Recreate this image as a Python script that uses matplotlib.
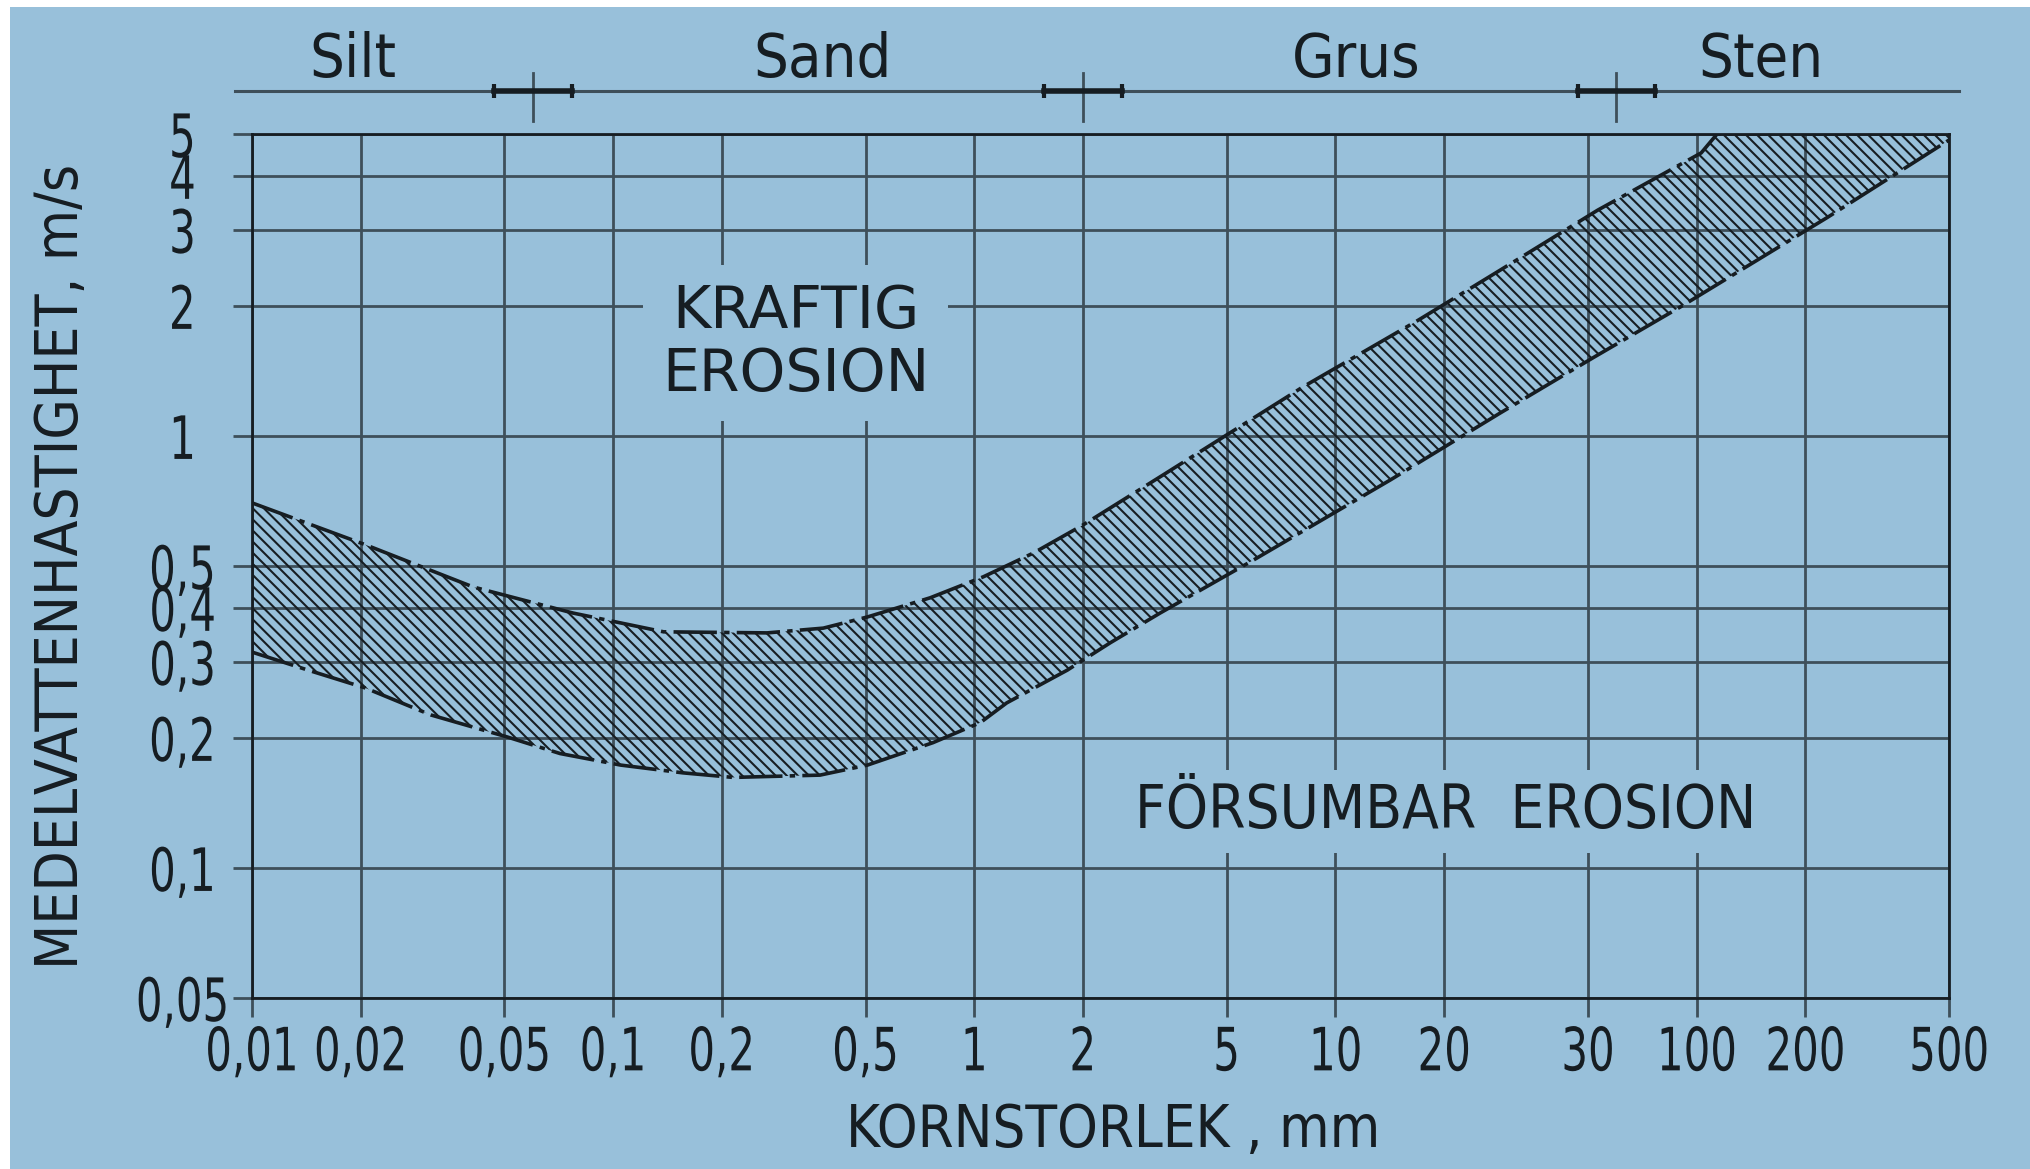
import matplotlib
matplotlib.use("Agg")
import matplotlib.pyplot as plt
from matplotlib import font_manager
from matplotlib.patches import Rectangle
from matplotlib.patheffects import AbstractPathEffect
from matplotlib.transforms import Affine2D

# grain size (mm) / mean water velocity (m/s) along the edges of the erosion band
upper_size = [0.01, 0.0206, 0.041, 0.0775, 0.138, 0.267, 0.382, 0.506, 0.755, 1.06,
              1.46, 2.0, 3.34, 8.15, 16.9, 28.6, 53.2, 103, 114, 500]
upper_vel = [0.70, 0.56, 0.447, 0.389, 0.352, 0.35, 0.359, 0.381, 0.422, 0.472,
             0.536, 0.622, 0.813, 1.30, 1.85, 2.42, 3.33, 4.52, 5.0, 5.0]
lower_size = [0.01, 0.0143, 0.0206, 0.0313, 0.0509, 0.0713, 0.105, 0.156, 0.215, 0.374,
              0.506, 0.769, 1.04, 1.23, 1.81, 2.38, 3.27, 5.93, 14.2, 28.6,
              51.9, 90.3, 231, 500]
lower_vel = [0.316, 0.287, 0.261, 0.226, 0.201, 0.184, 0.173, 0.166, 0.162, 0.164,
             0.173, 0.195, 0.217, 0.241, 0.287, 0.332, 0.389, 0.516, 0.791, 1.13,
             1.52, 1.99, 3.21, 4.84]

x_ticks = [0.01, 0.02, 0.05, 0.1, 0.2, 0.5, 1, 2, 5, 10, 20, 50, 100, 200, 500]
x_labels = ["0,01", "0,02", "0,05", "0,1", "0,2", "0,5", "1", "2", "5", "10", "20",
            "30", "100", "200", "500"]
y_ticks = [0.05, 0.1, 0.2, 0.3, 0.4, 0.5, 1, 2, 3, 4, 5]
y_labels = ["0,05", "0,1", "0,2", "0,3", "0,4", "0,5", "1", "2", "3", "4", "5"]

classes = ["Silt", "Sand", "Grus", "Sten"]
class_pos = [0.019, 0.38, 11.4, 151]
class_limits = [0.06, 2, 60]

BG = "#98c0da"
INK = "#161d22"
GRID = "#3e4f5a"


class Narrow(AbstractPathEffect):
    """Squeeze text glyphs horizontally around their centre."""

    def __init__(self, sx=0.8):
        super().__init__()
        self.sx = sx

    def draw_path(self, renderer, gc, tpath, affine, rgbFace=None):
        ext = tpath.get_extents()
        cx = 0.5 * (ext.x0 + ext.x1)
        squeeze = Affine2D().translate(-cx, 0).scale(self.sx, 1).translate(cx, 0)
        renderer.draw_path(gc, tpath, squeeze + affine, rgbFace)


names = {f.name for f in font_manager.fontManager.ttflist}
FONT = "Liberation Sans Narrow" if "Liberation Sans Narrow" in names else "DejaVu Sans"
plt.rcParams["font.family"] = FONT
plt.rcParams["font.stretch"] = "condensed"
plt.rcParams["hatch.linewidth"] = 1.5

fig = plt.figure(figsize=(20.3, 11.69), dpi=100, facecolor="white")
fig.patches.append(Rectangle((10 / 2030, 0), 1, 1 - 7 / 1169, transform=fig.transFigure,
                             facecolor=BG, edgecolor="none", zorder=-5))
ax = fig.add_axes([0.1241, 0.1463, 0.8360, 0.7391])
ax.set_facecolor(BG)
ax.set_xscale("log")
ax.set_yscale("log")
ax.set_xlim(0.01, 500)
ax.set_ylim(0.05, 5)

ax.set_xticks(x_ticks)
ax.set_xticklabels(x_labels)
ax.set_yticks(y_ticks)
ax.set_yticklabels(y_labels, ha="center")
ax.minorticks_off()
ax.tick_params(which="major", direction="out", length=14, width=2, color=GRID,
               labelsize=43, labelcolor=INK)
ax.tick_params(axis="x", pad=5)
ax.tick_params(axis="y", pad=36)
for lab in ax.get_xticklabels() + ax.get_yticklabels():
    lab.set_path_effects([Narrow(0.78)])

ax.set_axisbelow(True)
ax.grid(True, color=GRID, linewidth=2)
for sp in ax.spines.values():
    sp.set_color(INK)
    sp.set_linewidth(2)

# hatched band between the two limit curves
band_x = upper_size + lower_size[::-1]
band_y = upper_vel + lower_vel[::-1]
ax.fill(band_x, band_y, facecolor="none", edgecolor=INK, linewidth=0,
        hatch="\\\\\\", zorder=2)

dash = (12, 2, 1.5, 2)
ax.plot(upper_size, upper_vel, color=INK, linewidth=2.6, dashes=dash, zorder=3)
ax.plot(lower_size, lower_vel, color=INK, linewidth=2.6, dashes=dash, zorder=3)

ax.text(0.32, 1.64, "KRAFTIG\nEROSION", ha="center", va="center", fontsize=42,
        fontstretch="normal", color=INK, linespacing=1.12, zorder=5,
        bbox=dict(boxstyle="square,pad=0.32", facecolor=BG, edgecolor="none"))
ax.text(20.2, 0.135, "FÖRSUMBAR  EROSION", ha="center", va="center", fontsize=43,
        color=INK, zorder=5,
        bbox=dict(boxstyle="square,pad=0.2", facecolor=BG, edgecolor="none"))

# soil class scale above the plot
top = ax.get_xaxis_transform()
ax.plot([-0.01, 1.006], [1.05, 1.05], transform=ax.transAxes, color=GRID,
        linewidth=2.2, clip_on=False)
for b in class_limits:
    ax.plot([b, b], [1.015, 1.07], transform=top, color=GRID, linewidth=2, clip_on=False)
    ax.plot([b / 1.28, b * 1.28], [1.05, 1.05], transform=top, color=INK,
            linewidth=4, marker="|", markersize=10, markeredgewidth=3, clip_on=False)
for name, xpos in zip(classes, class_pos):
    ax.text(xpos, 1.085, name, transform=top, ha="center", va="center",
            fontsize=44, color=INK)

fig.text(62 / 2030, 1 - 566 / 1169, "MEDELVATTENHASTIGHET, m/s", rotation=90,
         ha="center", va="center", fontsize=42, color=INK)
fig.text(1113 / 2030, 1 - 1130 / 1169, "KORNSTORLEK , mm", ha="center", va="center",
         fontsize=41.5, color=INK)

fig.savefig("out.png", dpi=100, facecolor="white")
